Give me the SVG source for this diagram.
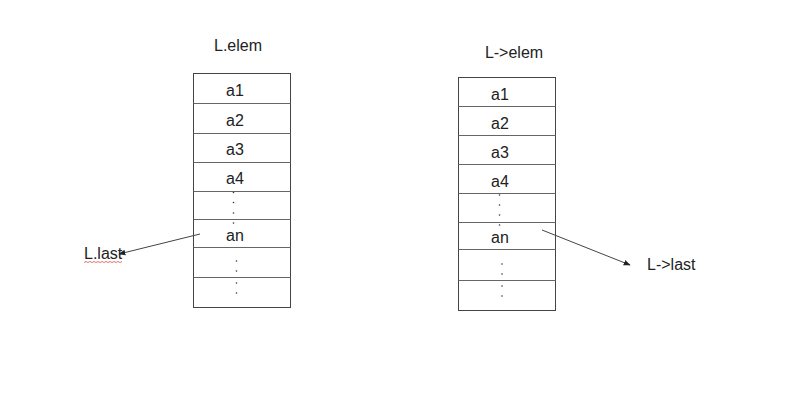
<svg xmlns="http://www.w3.org/2000/svg" width="800" height="419" viewBox="0 0 800 419">
<defs>
<style>
text{font-family:"Liberation Sans","Noto Sans",Arial,sans-serif;font-size:16px;fill:#222}
.cell{fill:#fff;stroke:#444;stroke-width:1}
.sep{stroke:#666;stroke-width:1}
.dot{fill:#333}
.conn{stroke:#444;stroke-width:1;fill:none}
</style>
<marker id="ah" viewBox="0 0 10 10" refX="9" refY="5" markerWidth="7" markerHeight="7" orient="auto" markerUnits="userSpaceOnUse">
<path d="M0,1 L10,5 L0,9 z" fill="#222"/>
</marker>
</defs>
<rect width="800" height="419" fill="#fff"/>
<g id="left-array">
<text x="238" y="51" text-anchor="middle">L.elem</text>
<rect class="cell" x="193.5" y="73.5" width="97" height="234"/>
<line class="sep" x1="193.5" y1="103.5" x2="290.5" y2="103.5"/>
<line class="sep" x1="193.5" y1="133.5" x2="290.5" y2="133.5"/>
<line class="sep" x1="193.5" y1="162.5" x2="290.5" y2="162.5"/>
<line class="sep" x1="193.5" y1="191.5" x2="290.5" y2="191.5"/>
<line class="sep" x1="193.5" y1="219.5" x2="290.5" y2="219.5"/>
<line class="sep" x1="193.5" y1="247.5" x2="290.5" y2="247.5"/>
<line class="sep" x1="193.5" y1="277.5" x2="290.5" y2="277.5"/>
<text x="235" y="96" text-anchor="middle">a1</text>
<text x="235" y="126" text-anchor="middle">a2</text>
<text x="235" y="155" text-anchor="middle">a3</text>
<text x="235" y="184" text-anchor="middle">a4</text>
<text x="235" y="241" text-anchor="middle">an</text>
<circle class="dot" cx="233.5" cy="192.5" r="0.8"/>
<circle class="dot" cx="233.5" cy="202.5" r="0.8"/>
<circle class="dot" cx="233.5" cy="213" r="0.8"/>
<circle class="dot" cx="233.5" cy="223" r="0.8"/>
<circle class="dot" cx="236.5" cy="261" r="0.8"/>
<circle class="dot" cx="236.5" cy="271" r="0.8"/>
<circle class="dot" cx="236.5" cy="283" r="0.8"/>
<circle class="dot" cx="236.5" cy="293" r="0.8"/>
</g>
<g id="right-array">
<text x="514" y="58" text-anchor="middle">L-&gt;elem</text>
<rect class="cell" x="458.5" y="77.5" width="97" height="233"/>
<line class="sep" x1="458.5" y1="106.5" x2="555.5" y2="106.5"/>
<line class="sep" x1="458.5" y1="135.5" x2="555.5" y2="135.5"/>
<line class="sep" x1="458.5" y1="164.5" x2="555.5" y2="164.5"/>
<line class="sep" x1="458.5" y1="193.5" x2="555.5" y2="193.5"/>
<line class="sep" x1="458.5" y1="222.5" x2="555.5" y2="222.5"/>
<line class="sep" x1="458.5" y1="249.5" x2="555.5" y2="249.5"/>
<line class="sep" x1="458.5" y1="280.5" x2="555.5" y2="280.5"/>
<text x="500" y="100" text-anchor="middle">a1</text>
<text x="500" y="129" text-anchor="middle">a2</text>
<text x="500" y="158" text-anchor="middle">a3</text>
<text x="500" y="187" text-anchor="middle">a4</text>
<text x="500" y="243" text-anchor="middle">an</text>
<circle class="dot" cx="499.5" cy="195" r="0.8"/>
<circle class="dot" cx="499.5" cy="205" r="0.8"/>
<circle class="dot" cx="499.5" cy="215" r="0.8"/>
<circle class="dot" cx="499.5" cy="225" r="0.8"/>
<circle class="dot" cx="502" cy="264" r="0.8"/>
<circle class="dot" cx="502" cy="274" r="0.8"/>
<circle class="dot" cx="502" cy="286" r="0.8"/>
<circle class="dot" cx="502" cy="296" r="0.8"/>
</g>
<g id="label-L-last">
<text x="84" y="259">L.last</text>
<path d="M84,262.5 l2,-1 l2,1 l2,-1 l2,1 l2,-1 l2,1 l2,-1 l2,1 l2,-1 l2,1 l2,-1 l2,1 l2,-1 l2,1 l2,-1 l2,1 l2,-1 l2,1 l2,-1" fill="none" stroke="#d33" stroke-width="0.7"/>
</g>
<g id="label-L-arrow-last">
<text x="647" y="270">L-&gt;last</text>
</g>
<g id="connectors">
<line class="conn" x1="200" y1="234" x2="119" y2="254" marker-end="url(#ah)"/>
<line class="conn" x1="542" y1="230" x2="630" y2="265" marker-end="url(#ah)"/>
</g>
</svg>
